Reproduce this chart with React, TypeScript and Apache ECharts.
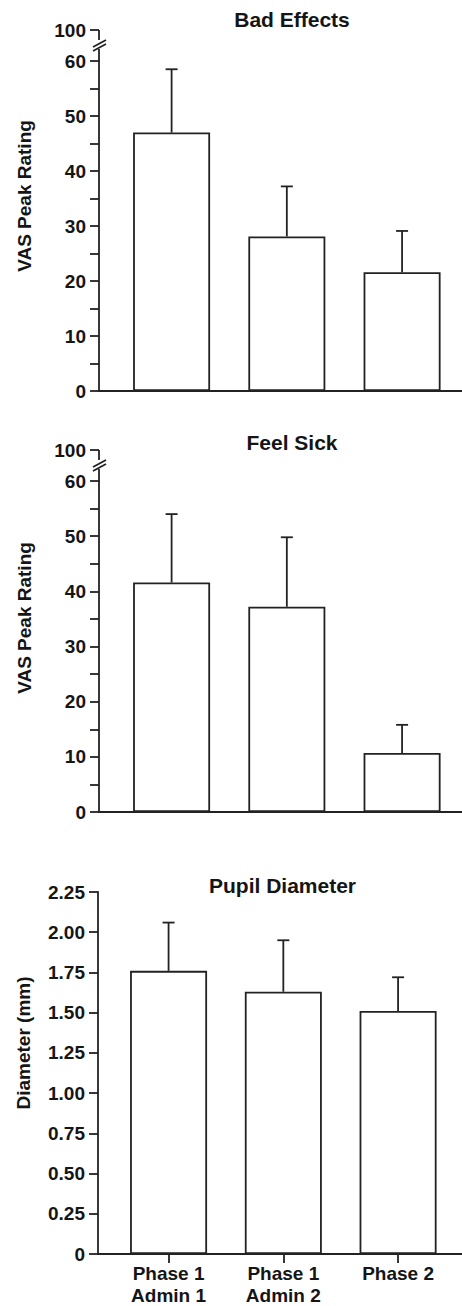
import React, { useEffect, useRef } from "react";
import * as echarts from "echarts";

// ---- data ----
const categories = ["Phase 1\nAdmin 1", "Phase 1\nAdmin 2", "Phase 2"];
const positions = [1, 2, 3];

const badEffectsMean = [47.0, 28.1, 21.6];
const badEffectsErr = [11.5, 9.1, 7.5];

const feelSickMean = [41.6, 37.2, 10.7];
const feelSickErr = [12.4, 12.6, 5.1];

const pupilMean = [1.76, 1.63, 1.51];
const pupilErr = [0.3, 0.32, 0.21];

const titles = ["Bad Effects", "Feel Sick", "Pupil Diameter"];
const yNames = ["VAS Peak Rating", "VAS Peak Rating", "Diameter (mm)"];
const breakLabel = "100";

// ---- style ----
const FONT = '"Liberation Sans", Arial, Helvetica, sans-serif';
const TXT = "#151515";
const LINE = "#222222";
const LW = 1.8;

function errorSeries(idx: number, means: number[], errs: number[]) {
  return {
    type: "custom",
    xAxisIndex: idx,
    yAxisIndex: idx,
    z: 5,
    data: positions.map((p, i) => [p, means[i], means[i] + errs[i]]),
    renderItem: (_params: any, api: any) => {
      const x = api.value(0);
      const p0 = api.coord([x, api.value(1)]);
      const p1 = api.coord([x, api.value(2)]);
      const style = { stroke: LINE, lineWidth: LW };
      return {
        type: "group",
        children: [
          { type: "line", shape: { x1: p0[0], y1: p0[1], x2: p1[0], y2: p1[1] }, style },
          { type: "line", shape: { x1: p1[0] - 6, y1: p1[1], x2: p1[0] + 6, y2: p1[1] }, style },
        ],
      };
    },
  };
}

function barSeries(idx: number, means: number[]) {
  return {
    type: "bar",
    xAxisIndex: idx,
    yAxisIndex: idx,
    barWidth: 77,
    z: 3,
    data: positions.map((p, i) => [p, means[i]]),
    itemStyle: { color: "#ffffff", borderColor: LINE, borderWidth: LW },
  };
}

const labelStyle = { fontFamily: FONT, fontSize: 19, fontWeight: "bold" as const, color: TXT };

function breakGraphics(axisX: number, top: number) {
  const s = { stroke: LINE, lineWidth: LW };
  return [
    { type: "line", shape: { x1: axisX - 9, y1: top - 31, x2: axisX, y2: top - 31 }, style: s },
    { type: "line", shape: { x1: axisX, y1: top - 31, x2: axisX, y2: top - 21 }, style: s },
    { type: "line", shape: { x1: axisX - 6, y1: top - 14, x2: axisX + 7, y2: top - 21 }, style: s },
    { type: "line", shape: { x1: axisX - 6, y1: top - 10, x2: axisX + 7, y2: top - 17 }, style: s },
    { type: "line", shape: { x1: axisX, y1: top - 12, x2: axisX, y2: top }, style: s },
    {
      type: "text",
      x: axisX - 13,
      y: top - 31,
      style: {
        text: breakLabel,
        font: `bold 19px ${FONT}`,
        fill: TXT,
        textAlign: "right",
        textVerticalAlign: "middle",
      },
    },
  ];
}

function titleText(text: string, x: number, y: number) {
  return {
    type: "text",
    x,
    y,
    style: { text, font: `bold 21px ${FONT}`, fill: TXT, textAlign: "center", textVerticalAlign: "middle" },
  };
}

function yNameText(text: string, x: number, y: number) {
  return {
    type: "text",
    x,
    y,
    rotation: Math.PI / 2,
    style: { text, font: `bold 19px ${FONT}`, fill: TXT, textAlign: "center", textVerticalAlign: "middle" },
  };
}

export default function App() {
  const ref = useRef<HTMLDivElement>(null);

  useEffect(() => {
    document.body.style.margin = "0";
    if (!ref.current) return;
    const chart = echarts.init(ref.current, undefined, { renderer: "svg" });

    const grids = [
      { left: 99, top: 61, width: 363, height: 330 },
      { left: 99, top: 481, width: 363, height: 331 },
      { left: 98, top: 892, width: 364, height: 362 },
    ];

    const axisLine = { show: true, onZero: false, lineStyle: { color: LINE, width: LW } };

    const vasY = (gi: number) => ({
      type: "value",
      gridIndex: gi,
      min: 0,
      max: 60,
      interval: 5,
      axisLine,
      axisTick: { show: true, length: 9, lineStyle: { color: LINE, width: LW } },
      axisLabel: {
        ...labelStyle,
        margin: 13,
        formatter: (v: number) => (v % 10 === 0 ? String(v) : ""),
      },
      splitLine: { show: false },
    });

    const option: any = {
      animation: false,
      backgroundColor: "#ffffff",
      grid: grids,
      xAxis: [
        {
          type: "value",
          gridIndex: 0,
          min: 0.37,
          max: 3.52,
          axisLine,
          axisTick: { show: false },
          axisLabel: { show: false },
          splitLine: { show: false },
        },
        {
          type: "value",
          gridIndex: 1,
          min: 0.37,
          max: 3.52,
          axisLine,
          axisTick: { show: false },
          axisLabel: { show: false },
          splitLine: { show: false },
        },
        {
          type: "value",
          gridIndex: 2,
          min: 0.385,
          max: 3.557,
          axisLine,
          axisTick: {
            show: true,
            customValues: positions,
            length: 9,
            lineStyle: { color: LINE, width: LW },
          },
          axisLabel: {
            show: true,
            customValues: positions,
            ...labelStyle,
            lineHeight: 22,
            margin: 8,
            formatter: (v: number) => categories[Math.round(v) - 1] ?? "",
          },
          splitLine: { show: false },
        },
      ],
      yAxis: [
        vasY(0),
        vasY(1),
        {
          type: "value",
          gridIndex: 2,
          min: 0,
          max: 2.25,
          interval: 0.25,
          axisLine,
          axisTick: { show: true, length: 9, lineStyle: { color: LINE, width: LW } },
          axisLabel: {
            ...labelStyle,
            margin: 13,
            formatter: (v: number) => (Math.abs(v) < 1e-9 ? "0" : v.toFixed(2)),
          },
          splitLine: { show: false },
        },
      ],
      series: [
        barSeries(0, badEffectsMean),
        errorSeries(0, badEffectsMean, badEffectsErr),
        barSeries(1, feelSickMean),
        errorSeries(1, feelSickMean, feelSickErr),
        barSeries(2, pupilMean),
        errorSeries(2, pupilMean, pupilErr),
      ],
      graphic: [
        titleText(titles[0], 292, 19.5),
        titleText(titles[1], 292, 442.5),
        titleText(titles[2], 282.5, 885),
        yNameText(yNames[0], 24, 196),
        yNameText(yNames[1], 24, 618),
        yNameText(yNames[2], 23, 1043),
        ...breakGraphics(99, 61),
        ...breakGraphics(99, 481),
      ],
    };

    chart.setOption(option);
    return () => chart.dispose();
  }, []);

  return <div ref={ref} style={{ width: 462, height: 1306 }} />;
}
